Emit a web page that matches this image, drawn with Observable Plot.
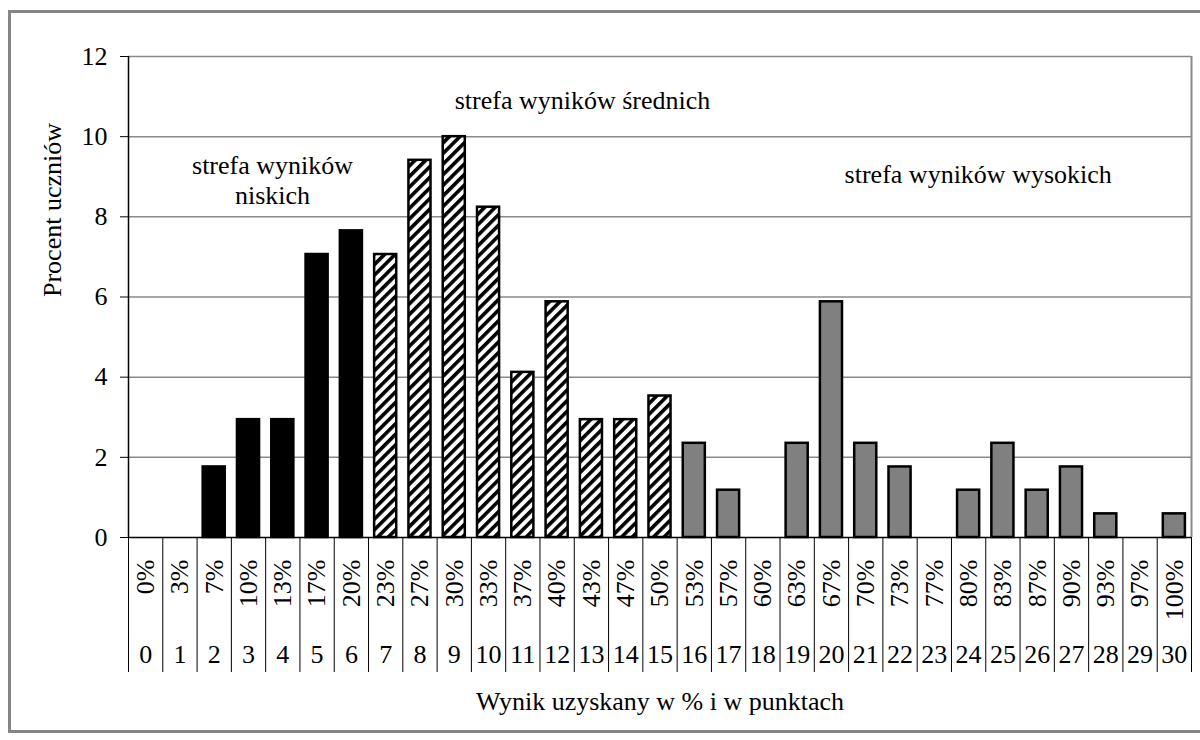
<!DOCTYPE html>
<html><head><meta charset="utf-8">
<script src="https://cdn.jsdelivr.net/npm/d3@7"></script>
<script src="https://cdn.jsdelivr.net/npm/@observablehq/plot@0.6"></script>
<style>
html,body{margin:0;padding:0;background:#fff;overflow:hidden;}
#wrap{position:relative;width:1200px;height:740px;overflow:hidden;}
#frame{position:absolute;left:8px;top:10px;width:1210px;height:723px;border:3px solid #868686;box-sizing:border-box;pointer-events:none;}
#chart{position:absolute;left:0;top:0;}
</style></head><body>
<div id="wrap"><div id="chart"></div><div id="frame"></div></div>
<script>
// Points (outer category level)
const points = [0,1,2,3,4,5,6,7,8,9,10,11,12,13,14,15,16,17,18,19,20,21,22,23,24,25,26,27,28,29,30];
// Percent labels (inner category level)
const percentLabels = ["0%","3%","7%","10%","13%","17%","20%","23%","27%","30%","33%","37%","40%","43%","47%","50%","53%","57%","60%","63%","67%","70%","73%","77%","80%","83%","87%","90%","93%","97%","100%"];
// Percent of students
const percentStudents = [0,0,1.76,2.94,2.94,7.06,7.65,7.06,9.41,10.0,8.24,4.12,5.88,2.94,2.94,3.53,2.35,1.18,0,2.35,5.88,2.35,1.76,0,1.18,2.35,1.18,1.76,0.59,0,0.59];
// Zones
const zones = ["niski","niski","niski","niski","niski","niski","niski","sredni","sredni","sredni","sredni","sredni","sredni","sredni","sredni","sredni","wysoki","wysoki","wysoki","wysoki","wysoki","wysoki","wysoki","wysoki","wysoki","wysoki","wysoki","wysoki","wysoki","wysoki","wysoki"];
// Zone annotations
const noteTexts = ["strefa wyników\nniskich","strefa wyników średnich","strefa wyników wysokich"];
const noteX = [4.2, 13.24, 24.78];
const noteY = [8.93, 10.93, 9.08];
const yTicks = [0,2,4,6,8,10,12];
const gridTicks = [2,4,6,8,10,12];
const yTitle = "Procent uczniów";
const xTitle = "Wynik uzyskany w % i w punktach";

const data = points.map((p,i)=>({pts:p, pct:percentStudents[i], zone:zones[i], pctLabel:percentLabels[i]}));
const notes = noteTexts.map((t,i)=>({text:t, x:noteX[i], y:noteY[i]}));
const bars = data.filter(d=>d.pct>0);
const FONT = "'Liberation Serif','Times New Roman',serif";
const FS = 26;
const barOpts = {x1:"pts", x2:d=>d.pts+1, y:"pct", insetLeft:6.1, insetRight:6.1, stroke:"black", strokeWidth:2.5};

const chart = Plot.plot({
  width:1200, height:740,
  marginLeft:128, marginRight:9, marginTop:56, marginBottom:203,
  style:{fontFamily:FONT, fontSize:FS+"px", color:"#000", background:"transparent", overflow:"visible"},
  x:{domain:[0,31], axis:null},
  y:{domain:[0,12], axis:null},
  marks:[
    Plot.gridY(gridTicks, {stroke:"#8a8a8a", strokeOpacity:1, strokeWidth:1.5}),
    Plot.ruleX([31], {y1:0, y2:12, stroke:"#8a8a8a", strokeWidth:2}),
    Plot.rectY(bars.filter(d=>d.zone==="niski"), {...barOpts, fill:"black"}),
    Plot.rectY(bars.filter(d=>d.zone==="sredni"), {...barOpts, fill:"url(#hatch)"}),
    Plot.rectY(bars.filter(d=>d.zone==="wysoki"), {...barOpts, fill:"#808080"}),
    Plot.ruleY([0], {stroke:"black", strokeWidth:1.5}),
    Plot.ruleX([0], {y1:0, y2:12, stroke:"black", strokeWidth:1.5}),
    Plot.axisY({ticks:yTicks, tickSize:8, tickPadding:13, label:null, fontSize:FS, tickFormat:d=>String(d)}),
    // category table separators
    Plot.ruleX(data, {x:"pts", insetTop:481, insetBottom:-135, stroke:"black", strokeWidth:1}),
    Plot.ruleX(data.slice(-1), {x:d=>d.pts+1, insetTop:481, insetBottom:-135, stroke:"black", strokeWidth:1}),
    Plot.text(data, {x:d=>d.pts+0.5, text:"pctLabel", frameAnchor:"bottom", dy:22, rotate:-90, textAnchor:"end", lineAnchor:"middle", fontSize:FS}),
    Plot.text(data, {x:d=>d.pts+0.5, text:d=>String(d.pts), frameAnchor:"bottom", dy:125, fontSize:FS}),
    Plot.text([yTitle], {frameAnchor:"left", dx:-76, rotate:-90, fontSize:FS}),
    Plot.text([xTitle], {frameAnchor:"bottom", dy:172, fontSize:FS}),
    Plot.text(notes, {x:"x", y:"y", text:"text", fontSize:FS, lineHeight:1.15})
  ]
});
d3.select(chart).insert("defs", ":first-child").html(
  '<pattern id="hatch" patternUnits="userSpaceOnUse" width="7.5" height="7.5" patternTransform="rotate(45)">' +
  '<rect width="7.5" height="7.5" fill="white"/><rect x="0" y="0" width="3.6" height="7.5" fill="black"/></pattern>');
document.getElementById("chart").appendChild(chart);
</script>
</body></html>
